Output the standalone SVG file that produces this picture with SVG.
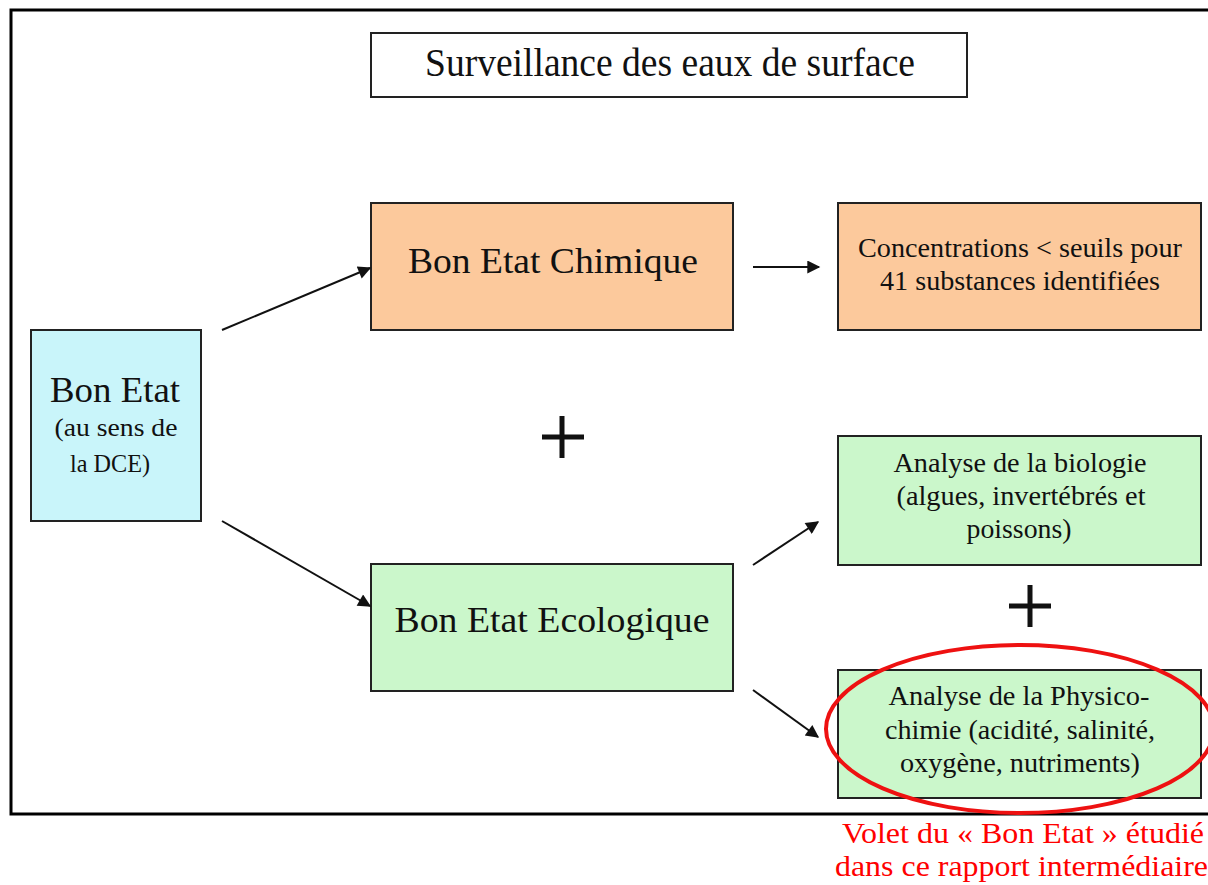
<svg xmlns="http://www.w3.org/2000/svg" width="1208" height="885" viewBox="0 0 1208 885">
<defs>
<style>
.box{stroke:#222;stroke-width:2}
text{font-family:'Liberation Serif','DejaVu Serif',serif}
.t{fill:#111;text-anchor:middle}
.big{font-size:35px}
.mid{font-size:26px}
.sm{font-size:28px}
.red{fill:#ff0000;font-size:30px;text-anchor:end}
.conn line{stroke:#111;stroke-width:2;marker-end:url(#ah)}
</style>
<marker id="ah" viewBox="0 0 10 10" refX="9" refY="5" markerWidth="16" markerHeight="13" orient="auto" markerUnits="userSpaceOnUse">
<path d="M0,0 L10,5 L0,10 z" fill="#111"/>
</marker>
</defs>
<rect width="1208" height="885" fill="#fff"/>
<rect x="11" y="10" width="1210" height="804" fill="none" stroke="#000" stroke-width="3"/>

<g id="title">
<rect class="box" x="371" y="33" width="596" height="64" fill="#fff"/>
<text class="t" x="670" y="76" font-size="40" textLength="490" lengthAdjust="spacingAndGlyphs">Surveillance des eaux de surface</text>
</g>

<g id="chimique">
<rect class="box" x="371" y="203" width="362" height="127" fill="#FCC99C"/>
<text class="t big" x="553" y="273" textLength="290" lengthAdjust="spacingAndGlyphs">Bon Etat Chimique</text>
</g>

<g id="concentrations">
<rect class="box" x="838" y="203" width="363" height="127" fill="#FCC99C"/>
<text class="t sm" x="1020" y="257" textLength="324" lengthAdjust="spacingAndGlyphs">Concentrations &lt; seuils pour</text>
<text class="t sm" x="1020" y="290" textLength="280" lengthAdjust="spacingAndGlyphs">41 substances identifiées</text>
</g>

<g id="bonetat">
<rect class="box" x="31" y="330" width="170" height="191" fill="#C9F5FA"/>
<text class="t" x="115" y="402" font-size="36" textLength="130" lengthAdjust="spacingAndGlyphs">Bon Etat</text>
<text class="t mid" x="116" y="436" textLength="123" lengthAdjust="spacingAndGlyphs">(au sens de</text>
<text class="t mid" x="110" y="472" textLength="80" lengthAdjust="spacingAndGlyphs">la DCE)</text>
</g>

<g id="biologie">
<rect class="box" x="838" y="436" width="363" height="129" fill="#CBF7CB"/>
<text class="t sm" x="1020" y="472" textLength="253" lengthAdjust="spacingAndGlyphs">Analyse de la biologie</text>
<text class="t sm" x="1021" y="505" textLength="249" lengthAdjust="spacingAndGlyphs">(algues, invertébrés et</text>
<text class="t sm" x="1019" y="538" textLength="105" lengthAdjust="spacingAndGlyphs">poissons)</text>
</g>

<g id="ecologique">
<rect class="box" x="371" y="564" width="362" height="127" fill="#CBF7CB"/>
<text class="t big" x="552" y="632" textLength="315" lengthAdjust="spacingAndGlyphs">Bon Etat Ecologique</text>
</g>

<g id="physico">
<rect class="box" x="838" y="670" width="363" height="128" fill="#CBF7CB"/>
<text class="t sm" x="1019" y="705" textLength="261" lengthAdjust="spacingAndGlyphs">Analyse de la Physico-</text>
<text class="t sm" x="1020" y="739" textLength="270" lengthAdjust="spacingAndGlyphs">chimie (acidité, salinité,</text>
<text class="t sm" x="1020" y="772" textLength="240" lengthAdjust="spacingAndGlyphs">oxygène, nutriments)</text>
</g>

<g id="plus1">
<path d="M542,437 H584 M562,416 V458" stroke="#111" stroke-width="5" fill="none"/>
</g>
<g id="plus2">
<path d="M1009,606 H1051 M1030,585 V627" stroke="#111" stroke-width="5" fill="none"/>
</g>

<g id="connectors" class="conn">
<line x1="222" y1="330" x2="370" y2="268"/>
<line x1="222" y1="521" x2="370" y2="606"/>
<line x1="753" y1="267" x2="819" y2="267"/>
<line x1="753" y1="565" x2="818" y2="522"/>
<line x1="753" y1="690" x2="818" y2="737"/>
</g>

<g id="highlight">
<ellipse cx="1020" cy="729" rx="194" ry="84" fill="none" stroke="#ee1111" stroke-width="4"/>
<text class="red" x="1204" y="843" textLength="362" lengthAdjust="spacingAndGlyphs">Volet du « Bon Etat » étudié</text>
<text class="red" x="1208" y="876" textLength="373" lengthAdjust="spacingAndGlyphs">dans ce rapport intermédiaire</text>
</g>
</svg>
